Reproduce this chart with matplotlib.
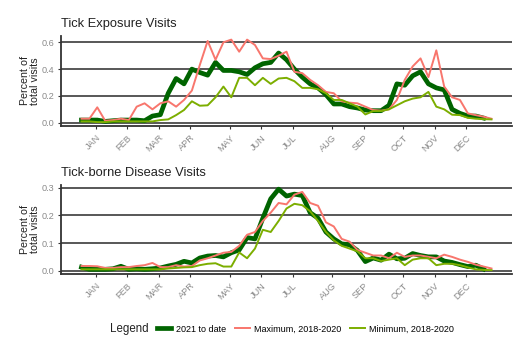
import matplotlib
matplotlib.use("Agg")
import matplotlib.pyplot as plt
from matplotlib.lines import Line2D
import numpy as np

plt.rcParams['font.family'] = ['Liberation Sans', 'DejaVu Sans']

# weekly series, percent of total ED visits
exposure_2021 = [0.02, 0.02, 0.02, 0.01, 0.015, 0.02, 0.02, 0.02, 0.015, 0.05,
                 0.06, 0.22, 0.33, 0.29, 0.40, 0.375, 0.355, 0.45, 0.39, 0.39,
                 0.38, 0.36, 0.41, 0.44, 0.45, 0.52, 0.47, 0.40, 0.34, 0.29,
                 0.26, 0.21, 0.14, 0.14, 0.12, 0.11, 0.095, 0.09, 0.09, 0.13,
                 0.29, 0.28, 0.35, 0.38, 0.29, 0.26, 0.245, 0.10, 0.07, 0.05,
                 0.05, 0.035]
exposure_max = [0.03, 0.03, 0.115, 0.015, 0.02, 0.03, 0.02, 0.12, 0.145, 0.10,
                0.145, 0.16, 0.12, 0.17, 0.24, 0.43, 0.61, 0.47, 0.60, 0.62,
                0.53, 0.62, 0.58, 0.48, 0.475, 0.50, 0.53, 0.38, 0.37, 0.32,
                0.28, 0.23, 0.22, 0.16, 0.15, 0.145, 0.12, 0.095, 0.09, 0.10,
                0.17, 0.32, 0.42, 0.48, 0.34, 0.54, 0.27, 0.19, 0.17, 0.07,
                0.057, 0.045, 0.03]
exposure_min = [0.01, 0.01, 0.005, 0.005, 0.01, 0.01, 0.01, 0.01, 0.01, 0.01,
                0.02, 0.025, 0.057, 0.095, 0.16, 0.127, 0.13, 0.19, 0.27, 0.19,
                0.335, 0.335, 0.28, 0.335, 0.29, 0.33, 0.335, 0.31, 0.26, 0.26,
                0.25, 0.22, 0.17, 0.17, 0.145, 0.12, 0.062, 0.087, 0.087, 0.10,
                0.13, 0.16, 0.18, 0.19, 0.23, 0.12, 0.10, 0.06, 0.057, 0.037,
                0.03, 0.027, 0.025]

disease_2021 = [0.013, 0.005, 0.005, 0.005, 0.007, 0.016, 0.005, 0.007, 0.005, 0.007,
                0.01, 0.017, 0.023, 0.034, 0.028, 0.046, 0.053, 0.055, 0.05, 0.065,
                0.075, 0.12, 0.115, 0.19, 0.26, 0.295, 0.27, 0.277, 0.272, 0.21,
                0.19, 0.14, 0.115, 0.097, 0.094, 0.073, 0.033, 0.046, 0.038, 0.06,
                0.043, 0.045, 0.062, 0.055, 0.05, 0.05, 0.035, 0.03, 0.022, 0.015,
                0.02, 0.006]
disease_max = [0.017, 0.017, 0.016, 0.01, 0.01, 0.013, 0.013, 0.017, 0.02, 0.028,
               0.013, 0.013, 0.02, 0.015, 0.017, 0.037, 0.045, 0.055, 0.065, 0.068,
               0.09, 0.13, 0.14, 0.18, 0.21, 0.245, 0.24, 0.275, 0.285, 0.245,
               0.235, 0.175, 0.16, 0.115, 0.105, 0.075, 0.065, 0.055, 0.055, 0.045,
               0.065, 0.05, 0.055, 0.055, 0.05, 0.045, 0.058, 0.05, 0.04, 0.032,
               0.022, 0.015, 0.008]
disease_min = [0.005, 0.005, 0.005, 0.005, 0.005, 0.005, 0.005, 0.005, 0.005, 0.005,
               0.005, 0.008, 0.01, 0.012, 0.013, 0.02, 0.025, 0.027, 0.015, 0.015,
               0.066, 0.045, 0.08, 0.148, 0.14, 0.18, 0.225, 0.242, 0.237, 0.215,
               0.18, 0.14, 0.11, 0.09, 0.08, 0.07, 0.045, 0.045, 0.035, 0.04,
               0.045, 0.02, 0.04, 0.045, 0.045, 0.02, 0.025, 0.025, 0.02, 0.012,
               0.005, 0.003, 0.002]

months = ['JAN', 'FEB', 'MAR', 'APR', 'MAY', 'JUN',
          'JUL', 'AUG', 'SEP', 'OCT', 'NOV', 'DEC']
month_weeks = [2.8, 6.8, 10.8, 14.8, 19.8, 23.8, 27.8, 32.8, 36.8, 41.8, 45.8, 49.8]

series_labels = ['2021 to date', 'Maximum, 2018-2020', 'Minimum, 2018-2020']
colors = ['#006400', '#F8766D', '#7CAE00']
widths = [3.4, 1.4, 1.4]

W, H = 531, 346
fig = plt.figure(figsize=(W / 100, H / 100), dpi=100)
ax1 = fig.add_axes([61 / W, (H - 126.2) / H, 451 / W, 90.7 / H])
ax2 = fig.add_axes([61 / W, (H - 274.2) / H, 451 / W, 89.1 / H])


def draw_panel(ax, title, series, yticks, title_pad):
    for vals, c, lw in zip(series, colors, widths):
        weeks = np.arange(1, len(vals) + 1)
        ax.plot(weeks, vals, color=c, lw=lw, solid_joinstyle='round', zorder=3)
    # ggplot-style 5% padding
    allv = np.concatenate([np.asarray(s) for s in series])
    lo, hi = allv.min(), allv.max()
    pad = 0.05 * (hi - lo)
    ax.set_ylim(lo - pad, hi + pad)
    n = max(len(s) for s in series)
    ax.set_xlim(1 - 0.05 * (n - 1), n + 0.05 * (n - 1))

    ax.set_yticks(yticks)
    ax.set_yticklabels([f'{v:.1f}' for v in yticks])
    ax.set_xticks(month_weeks)
    ax.set_xticklabels(months, rotation=45, ha='right', rotation_mode='anchor')

    ax.yaxis.grid(True, color='#4a4a4a', lw=1.3)
    ax.set_axisbelow(True)
    for s in ['top', 'right']:
        ax.spines[s].set_visible(False)
    for s in ['left', 'bottom']:
        ax.spines[s].set_color('#333333')
        ax.spines[s].set_linewidth(1.3)
    ax.tick_params(length=2.5, width=0.8, color='#333333',
                   labelcolor='#8a8a8a', labelsize=6.6, pad=2.5)
    ax.set_title(title, loc='left', fontsize=9.3, color='#222222', pad=title_pad)


draw_panel(ax1, 'Tick Exposure Visits',
           [exposure_2021, exposure_max, exposure_min], [0.0, 0.2, 0.4, 0.6], 6)
draw_panel(ax2, 'Tick-borne Disease Visits',
           [disease_2021, disease_max, disease_min], [0.0, 0.1, 0.2, 0.3], 6.5)

for ax in (ax1, ax2):
    y0, y1 = ax.get_position().y0, ax.get_position().y1
    fig.text(30 / W, (y0 + y1) / 2, 'Percent of\ntotal visits', rotation=90,
             ha='center', va='center', fontsize=7.7, color='#222222',
             multialignment='center', linespacing=1.0)

handles = [Line2D([], [], color=c, lw=lw) for c, lw in zip(colors, widths)]
fig.text(110 / W, 1 - 329 / H, 'Legend', fontsize=8.3, color='#222222', va='center')
fig.legend(handles, series_labels, ncol=3, loc='center left',
           bbox_to_anchor=(157 / W, 1 - 329 / H), frameon=False,
           fontsize=6.5, handlelength=1.6, handletextpad=0.5,
           columnspacing=1.0, borderaxespad=0, borderpad=0)

fig.savefig('out.png', dpi=100, facecolor='white')
